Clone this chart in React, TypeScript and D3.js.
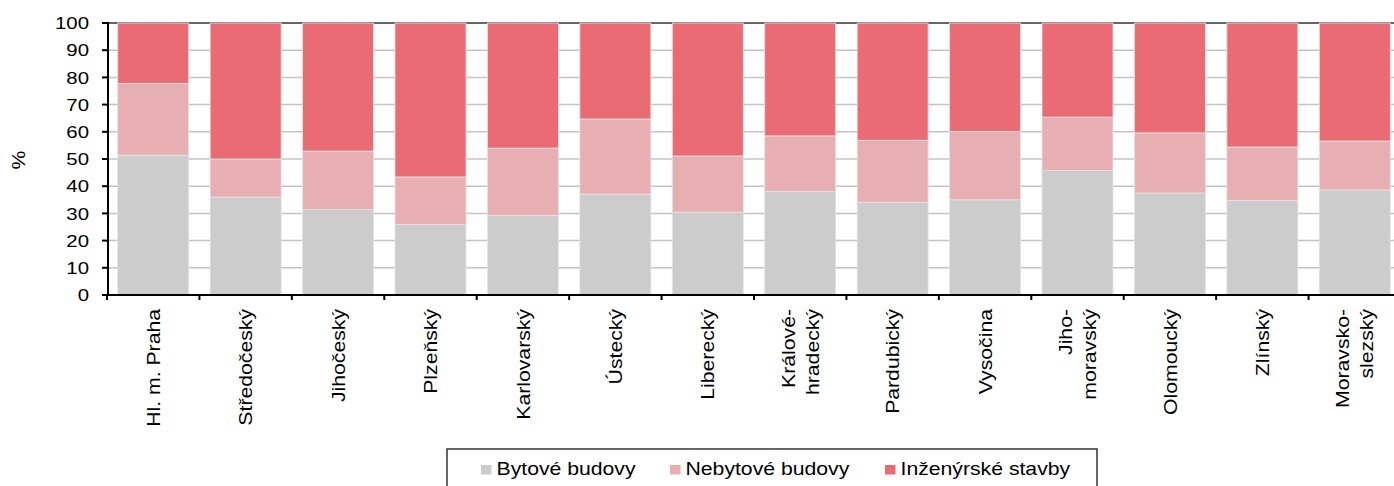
import React from "react";
import * as d3 from "d3";

const categories: string[][] = [
  ["Hl. m. Praha"],
  ["Středočeský"],
  ["Jihočeský"],
  ["Plzeňský"],
  ["Karlovarský"],
  ["Ústecký"],
  ["Liberecký"],
  ["Králové-", "hradecký"],
  ["Pardubický"],
  ["Vysočina"],
  ["Jiho-", "moravský"],
  ["Olomoucký"],
  ["Zlínský"],
  ["Moravsko-", "slezský"],
];

const bytove = [51.4, 36.0, 31.4, 25.9, 29.2, 37.1, 30.5, 38.0, 34.1, 35.0, 45.8, 37.5, 34.7, 38.6];
const nebytove = [26.4, 14.0, 21.5, 17.5, 24.8, 27.6, 20.6, 20.5, 22.8, 25.1, 19.6, 22.1, 19.7, 18.0];
const inzenyrske = [22.2, 50.0, 47.1, 56.6, 46.0, 35.3, 48.9, 41.5, 43.1, 39.9, 34.6, 40.4, 45.6, 43.4];

const seriesNames = ["Bytové budovy", "Nebytové budovy", "Inženýrské stavby"];
const seriesColors = ["#cccccc", "#e8afb2", "#ea6b73"];
const yTicks = [0, 10, 20, 30, 40, 50, 60, 70, 80, 90, 100];

const W = 1394;
const H = 486;
const FONT = "'Liberation Sans', Arial, sans-serif";
const WIDE = 1.14;

export default function App() {
  const keys = categories.map((c) => c.join(" "));
  const x = d3.scaleBand<string>().domain(keys).range([107, 1401]).paddingInner(0.232).paddingOuter(0.116);
  const y = d3.scaleLinear().domain([0, 100]).range([295, 23]);

  const rows = keys.map((k, i) => ({ key: k, s0: bytove[i], s1: nebytove[i], s2: inzenyrske[i] }));
  const stack = d3.stack<any>().keys(["s0", "s1", "s2"]);
  const stacked = stack(rows);

  const step = x.step();
  const x0 = x.range()[0];

  return (
    <svg width={W} height={H} style={{ position: "absolute", left: 0, top: 0, background: "#fff" }} fontFamily={FONT}>
      {/* gridlines */}
      {yTicks.map((t) => (
        <line key={"g" + t} x1={108} x2={1401} y1={y(t)} y2={y(t)} stroke={t === 100 ? "#333" : "#c4c4c4"} strokeWidth={t === 100 ? 1.6 : 1.5} />
      ))}
      {/* bars */}
      {stacked.map((layer, li) => (
        <g key={"l" + li} fill={seriesColors[li]}>
          {layer.map((d, i) => (
            <rect
              key={i}
              x={x(keys[i])}
              width={x.bandwidth()}
              y={y(d[1])}
              height={y(d[0]) - y(d[1])}
              stroke="#e4e4e4"
              strokeWidth={0.8}
            />
          ))}
        </g>
      ))}
      {/* y axis */}
      <line x1={108} x2={108} y1={22} y2={296} stroke="#000" strokeWidth={2} />
      {yTicks.map((t) => (
        <g key={"yt" + t}>
          <line x1={102} x2={108} y1={y(t)} y2={y(t)} stroke="#000" strokeWidth={2} />
          <g transform={`translate(89,${y(t)}) scale(1.2,1)`}>
            <text x={0} y={0} dy="0.36em" textAnchor="end" fontSize={17} fill="#000">
              {t}
            </text>
          </g>
        </g>
      ))}
      {/* x axis */}
      <line x1={107} x2={1401} y1={295} y2={295} stroke="#000" strokeWidth={2} />
      {d3.range(keys.length + 1).map((i) => (
        <line key={"xt" + i} x1={x0 + i * step} x2={x0 + i * step} y1={295} y2={300} stroke="#000" strokeWidth={2} />
      ))}
      {categories.map((lines, i) => {
        const cx = (x(keys[i]) as number) + x.bandwidth() / 2;
        return (
          <text
            key={"xl" + i}
            transform={`translate(${cx},309) rotate(-90) scale(${WIDE},1)`}
            textAnchor="end"
            fontSize={18.6}
            fill="#000"
          >
            {lines.map((ln, j) => (
              <tspan key={j} x={0} y={(j - (lines.length - 1) / 2) * 24} dy="0.36em">
                {ln}
              </tspan>
            ))}
          </text>
        );
      })}
      {/* y label */}
      <text transform="translate(18,160) rotate(-90) scale(1.14,1)" textAnchor="middle" dy="0.36em" fontSize={18.6} fill="#000">
        %
      </text>
      {/* legend */}
      <rect x={447} y={449} width={650} height={40} fill="#fff" stroke="#000" strokeWidth={1.2} />
      {seriesNames.map((n, i) => {
        const sx = [481, 670, 885][i];
        return (
          <g key={"lg" + i}>
            <rect x={sx} y={465} width={10.5} height={9.5} fill={seriesColors[i]} />
            <g transform={`translate(${sx + 15.5},474.5) scale(${WIDE},1)`}>
              <text x={0} y={0} fontSize={18.6} fill="#000">
                {n}
              </text>
            </g>
          </g>
        );
      })}
    </svg>
  );
}
